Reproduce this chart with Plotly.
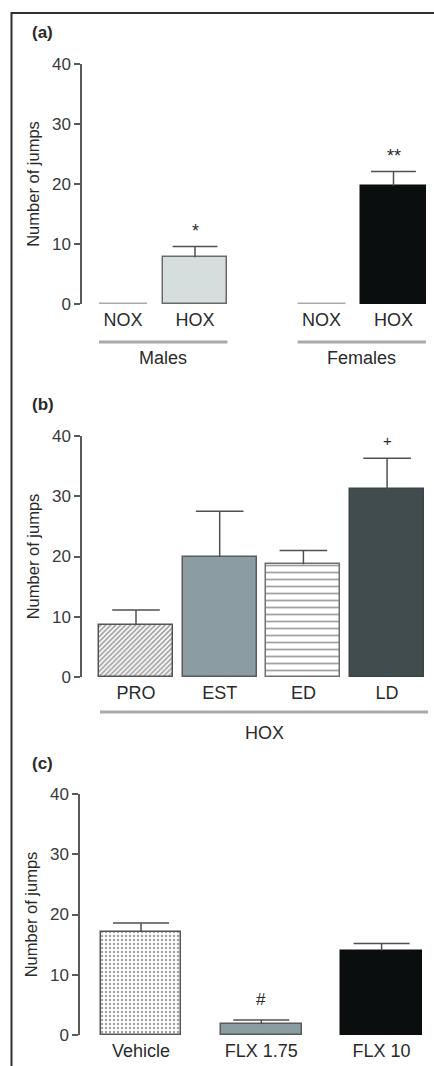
import plotly.graph_objects as go

W, H = 434, 1066
FONT = "Liberation Sans, Arial, sans-serif"

# ---------------- data ----------------
# Panel (a)
a_groups = ["Males", "Females"]
a_categories = ["NOX", "HOX", "NOX", "HOX"]
a_values = [0.0, 7.8, 0.0, 19.7]
a_errors = [0.0, 1.8, 0.0, 2.4]
a_marks = ["", "*", "", "**"]

# Panel (b)
b_group = "HOX"
b_categories = ["PRO", "EST", "ED", "LD"]
b_values = [8.6, 20.0, 18.7, 31.2]
b_errors = [2.5, 7.5, 2.3, 5.1]
b_marks = ["", "", "", "+"]

# Panel (c)
c_categories = ["Vehicle", "FLX 1.75", "FLX 10"]
c_values = [17.1, 1.8, 14.0]
c_errors = [1.5, 0.7, 1.2]
c_marks = ["", "#", ""]

y_ticks = [0, 10, 20, 30, 40]

# ---------------- helpers ----------------
def py(pix):
    return 1 - pix / H

def px(pix):
    return pix / W

fig = go.Figure()

AX_COL = "#5a5a5a"
TXT_COL = "#2a2a2a"
ERR_COL = "#505050"

def yaxis_cfg(top, bottom):
    return dict(
        domain=[py(bottom), py(top)], range=[0, 40], tickvals=y_ticks,
        showline=True, linecolor=AX_COL, linewidth=1.5,
        ticks="outside", ticklen=6, tickwidth=1.5, tickcolor=AX_COL,
        showgrid=False, zeroline=False, automargin=False,
        tickfont=dict(family=FONT, size=17, color="#3a3a3a"),
        title=dict(text="Number of jumps", font=dict(family=FONT, size=16.5, color=TXT_COL), standoff=8),
    )

def xaxis_cfg(left_pix, first_center_pix, unit_pix, pos, labels):
    lo = (left_pix - first_center_pix) / unit_pix
    hi = (W - first_center_pix) / unit_pix
    return dict(
        domain=[px(left_pix), 1], range=[lo, hi],
        tickvals=pos, ticktext=labels, ticks="", showline=False,
        showgrid=False, zeroline=False, automargin=False,
        tickfont=dict(family=FONT, size=18, color=TXT_COL),
        ticklabelstandoff=3,
    )

def add_error_caps(xs, vals, errs, xa, ya, cap):
    # caps only at the top end of each (upward) error bar
    fig.add_trace(go.Scatter(
        x=xs, y=[v + e for v, e in zip(vals, errs)], mode="markers",
        marker=dict(symbol="line-ew", size=cap, line=dict(color=ERR_COL, width=1.5)),
        cliponaxis=False, xaxis=xa, yaxis=ya, showlegend=False, hoverinfo="skip",
    ))

# ---------------- panel (a) ----------------
gap_a = 1.757
a_pos = [0, 1, gap_a + 1, gap_a + 2]
hox_idx = [1, 3]
a_hx = [a_pos[i] for i in hox_idx]
a_hv = [a_values[i] for i in hox_idx]
a_he = [a_errors[i] for i in hox_idx]
fig.add_trace(go.Bar(
    x=a_hx, y=a_hv, width=0.89,
    marker=dict(color=["#d6dddd", "#0b0e0e"], line=dict(color=["#6a6a6a", "#0b0e0e"], width=1.5)),
    error_y=dict(type="data", symmetric=False, array=a_he,
                 arrayminus=[0, 0], color=ERR_COL, thickness=1.5, width=0),
    xaxis="x", yaxis="y", showlegend=False,
))
add_error_caps(a_hx, a_hv, a_he, "x", "y", 32)
# NOX groups (value 0) drawn as flat lines at their value
for i in [0, 2]:
    fig.add_trace(go.Scatter(
        x=[a_pos[i] - 0.333, a_pos[i] + 0.333], y=[a_values[i], a_values[i]],
        mode="lines", line=dict(color="#aaaaaa", width=3), cliponaxis=False,
        xaxis="x", yaxis="y", showlegend=False, hoverinfo="skip",
    ))
for i, m in enumerate(a_marks):
    if m:
        fig.add_annotation(x=a_pos[i], y=a_values[i] + a_errors[i], xref="x", yref="y",
                           text=m, showarrow=False, yshift=15, yanchor="middle",
                           font=dict(family=FONT, size=18, color=TXT_COL))
# group underlines and labels
for g, (i0, i1) in enumerate([(0, 1), (2, 3)]):
    fig.add_shape(type="line", xref="x", yref="paper",
                  x0=a_pos[i0] - 0.333, x1=a_pos[i1] + 0.45, y0=py(342), y1=py(342),
                  line=dict(color="#aaaaaa", width=3))
    fig.add_annotation(x=(a_pos[i0] - 0.333 + a_pos[i1] + 0.45) / 2, y=py(358),
                       xref="x", yref="paper", text=a_groups[g], showarrow=False,
                       yanchor="middle",
                       font=dict(family=FONT, size=18, color=TXT_COL))

# ---------------- panel (b) ----------------
b_pos = list(range(len(b_categories)))
b_colors = ["white", "#8c9ca3", "white", "#404c4e"]
b_lines = ["#555555", "#5a5a5a", "#707070", "#3a4446"]
b_shapes = ["/", "", "-", ""]
b_fg = ["#555555", "#8c9ca3", "#707070", "#404c4e"]
fig.add_trace(go.Bar(
    x=b_pos, y=b_values, width=0.884,
    marker=dict(color=b_colors, line=dict(color=b_lines, width=1.5),
                pattern=dict(shape=b_shapes, fgcolor=b_fg, bgcolor=b_colors,
                             size=[3.5, 8, 7, 8], solidity=[0.5, 0.2, 0.25, 0.2],
                             fillmode="overlay")),
    error_y=dict(type="data", symmetric=False, array=b_errors, arrayminus=[0] * 4,
                 color=ERR_COL, thickness=1.5, width=0),
    xaxis="x2", yaxis="y2", showlegend=False,
))
add_error_caps(b_pos, b_values, b_errors, "x2", "y2", 34)
for i, m in enumerate(b_marks):
    if m:
        fig.add_annotation(x=b_pos[i], y=b_values[i] + b_errors[i], xref="x2", yref="y2",
                           text=m, showarrow=False, yshift=18, yanchor="middle",
                           font=dict(family=FONT, size=15, color=TXT_COL))
fig.add_shape(type="line", xref="x2", yref="paper", x0=-0.43, x1=3.49,
              y0=py(712), y1=py(712), line=dict(color="#aaaaaa", width=3))
fig.add_annotation(x=(-0.43 + 3.49) / 2, y=py(733), xref="x2", yref="paper",
                   text=b_group, showarrow=False, yanchor="middle",
                   font=dict(family=FONT, size=18, color=TXT_COL))

# ---------------- panel (c) ----------------
c_pos = list(range(len(c_categories)))
c_colors = ["white", "#8c9ca3", "#0b0e0e"]
c_lines = ["#555555", "#5a5a5a", "#0b0e0e"]
fig.add_trace(go.Bar(
    x=c_pos, y=c_values, width=0.67,
    marker=dict(color=c_colors, line=dict(color=c_lines, width=1.5),
                pattern=dict(shape=[".", "", ""], fgcolor=["#9a9a9a", "#8c9ca3", "#0b0e0e"],
                             bgcolor=c_colors, size=[4, 8, 8], solidity=[0.3, 0.2, 0.2],
                             fillmode="overlay")),
    error_y=dict(type="data", symmetric=False, array=c_errors, arrayminus=[0] * 3,
                 color=ERR_COL, thickness=1.5, width=0),
    xaxis="x3", yaxis="y3", showlegend=False,
))
add_error_caps(c_pos, c_values, c_errors, "x3", "y3", 40)
for i, m in enumerate(c_marks):
    if m:
        fig.add_annotation(x=c_pos[i], y=c_values[i] + c_errors[i], xref="x3", yref="y3",
                           text=m, showarrow=False, yshift=20, yanchor="middle",
                           font=dict(family=FONT, size=17, color=TXT_COL))

# ---------------- panel labels ----------------
for lab, ypix in [("(a)", 33), ("(b)", 405), ("(c)", 763)]:
    fig.add_annotation(x=px(30), y=py(ypix), xref="paper", yref="paper", xanchor="left",
                       yanchor="middle", text=f"<b>{lab}</b>", showarrow=False,
                       font=dict(family=FONT, size=17, color=TXT_COL))

# frame around the figure
fig.add_shape(type="rect", xref="paper", yref="paper", x0=px(11.5), x1=1.2,
              y0=-0.2, y1=py(13), line=dict(color="#2e2e2e", width=2), layer="above")

fig.update_layout(
    width=W, height=H, margin=dict(l=0, r=0, t=0, b=0, autoexpand=False),
    paper_bgcolor="white", plot_bgcolor="white", bargap=0,
    xaxis=xaxis_cfg(82, 123, 72, a_pos, a_categories),
    yaxis=yaxis_cfg(64, 304),
    xaxis2=xaxis_cfg(82, 136, 83.7, b_pos, b_categories) | dict(anchor="y2"),
    yaxis2=yaxis_cfg(436, 677) | dict(anchor="x2"),
    xaxis3=xaxis_cfg(80, 141, 120.3, c_pos, c_categories) | dict(anchor="y3"),
    yaxis3=yaxis_cfg(794, 1035) | dict(anchor="x3"),
)
fig.update_layout(yaxis_anchor="x", xaxis_anchor="y")

fig.write_html(
    "out.html",
    config={"displayModeBar": False},
    post_script="document.body.style.margin='0';document.body.style.overflow='hidden';",
)
